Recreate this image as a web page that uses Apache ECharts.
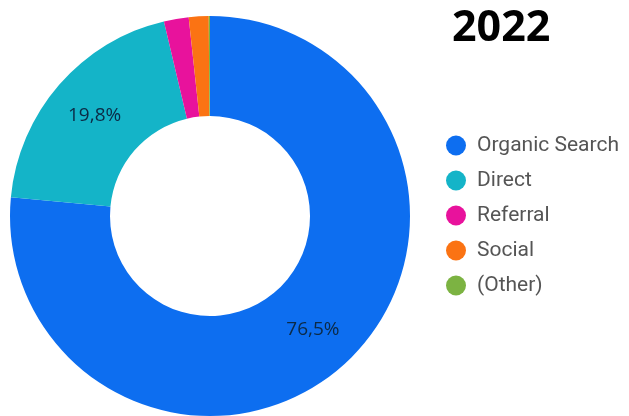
<!DOCTYPE html>
<html>
<head>
<meta charset="utf-8">
<script src="https://cdn.jsdelivr.net/npm/echarts@6/dist/echarts.min.js"></script>
<style>
  html, body { margin: 0; padding: 0; background: #ffffff; }
  #chart { width: 629px; height: 416px; }
</style>
</head>
<body>
<div id="chart"></div>
<script>
// Traffic channel shares for 2022 (percent of sessions)
const title = '2022';
const channels = ['Organic Search', 'Direct', 'Referral', 'Social', '(Other)'];
const shares = [76.5, 19.8, 2.0, 1.6, 0.1];
const colors = ['#0d6ef0', '#14b4c8', '#e8129c', '#fb7313', '#7cb342'];
// Only slices this large get an inside percentage label
const labelThreshold = 5;

const chart = echarts.init(document.getElementById('chart'), null, { renderer: 'canvas' });

const data = channels.map((name, i) => ({
  name: name,
  value: shares[i],
  itemStyle: { color: colors[i] },
  label: { show: shares[i] >= labelThreshold }
}));

chart.setOption({
  animation: false,
  backgroundColor: '#ffffff',
  title: {
    text: title,
    left: 447,
    top: 2,
    textStyle: {
      fontFamily: 'Open Sans',
      fontWeight: 'bold',
      fontSize: 43,
      color: '#000000'
    }
  },
  legend: {
    orient: 'vertical',
    left: 446,
    top: 135,
    padding: 0,
    icon: 'circle',
    itemWidth: 20,
    itemHeight: 20,
    itemGap: 14,
    selectedMode: false,
    data: channels,
    textStyle: {
      fontFamily: 'Roboto',
      fontSize: 21,
      lineHeight: 21,
      color: '#555555',
      padding: [0, 0, 0, 6]
    }
  },
  series: [{
    type: 'pie',
    center: [210, 216],
    radius: [100, 200],
    startAngle: 90,
    clockwise: true,
    avoidLabelOverlap: false,
    silent: true,
    label: {
      position: 'inside',
      fontFamily: 'Open Sans',
      fontSize: 19,
      color: '#0c2a45',
      formatter: p => p.value.toFixed(1).replace('.', ',') + '%'
    },
    labelLine: { show: false },
    itemStyle: { borderWidth: 0 },
    data: data
  }]
});
</script>
</body>
</html>
